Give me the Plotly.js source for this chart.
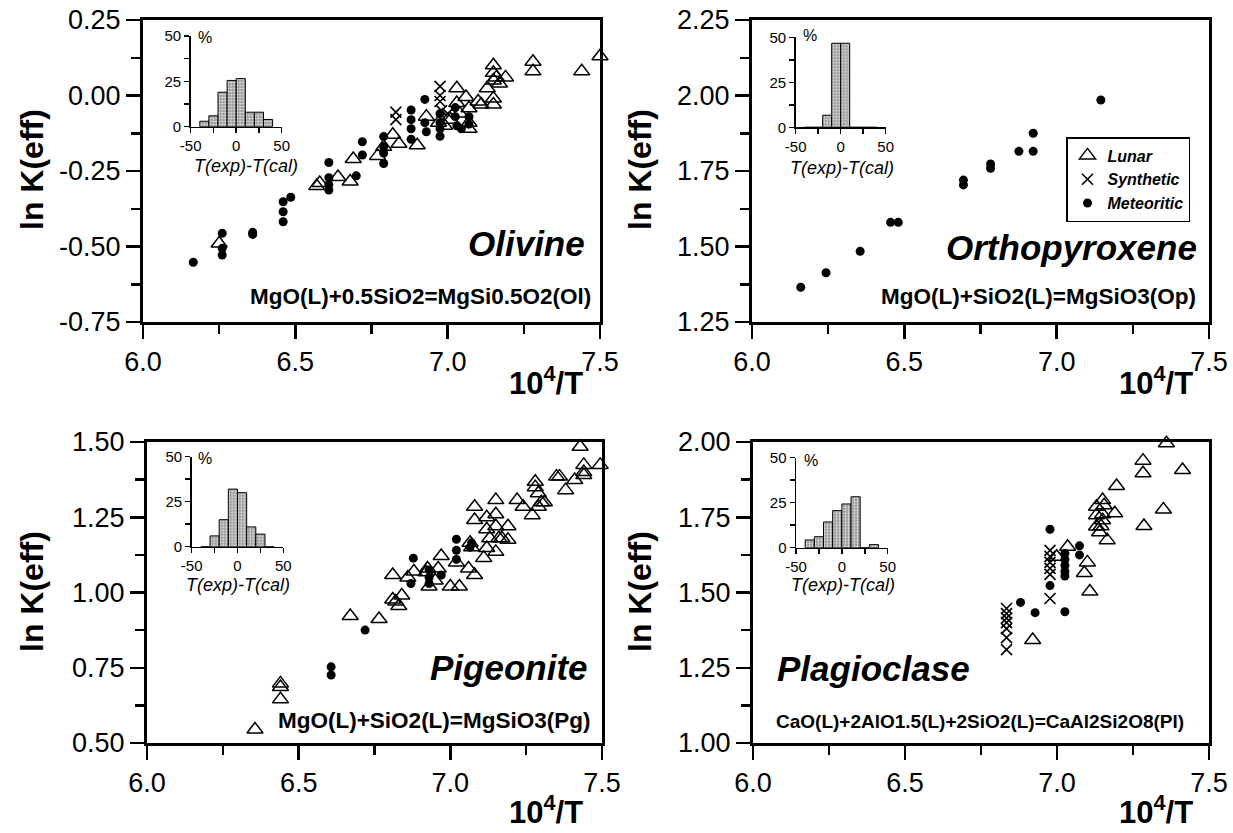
<!DOCTYPE html>
<html><head><meta charset="utf-8">
<script src="https://cdn.plot.ly/plotly-3.0.1.min.js"></script>
<style>html,body{margin:0;padding:0;background:#fff;}#chart{width:1233px;height:833px;}</style>
</head><body><div id="chart"></div>
<script>
// ---------------- DATA ----------------
// Olivine
const olLunarX = [6.25,6.57,6.58,6.64,6.68,6.69,6.77,6.79,6.82,6.84,6.90,6.93,6.97,7.03,7.03,7.06,7.07,7.07,7.07,7.10,7.11,7.13,7.15,7.15,7.15,7.15,7.15,7.16,7.17,7.19,7.28,7.28,7.44,7.50,6.99,7.01,7.04];
const olLunarY = [-0.49,-0.30,-0.29,-0.27,-0.285,-0.21,-0.20,-0.17,-0.13,-0.16,-0.165,-0.07,-0.09,0.024,-0.025,-0.005,-0.042,-0.09,-0.11,-0.02,-0.03,0.024,0.10,0.075,0.05,-0.01,-0.03,0.06,0.04,0.06,0.112,0.08,0.08,0.13,-0.10,-0.08,-0.06];
const olSynX = [6.83,6.83,6.975,6.975,6.975,6.98,7.00];
const olSynY = [-0.055,-0.08,0.03,0.00,-0.02,-0.05,-0.06];
const olMetX = [6.165,6.26,6.26,6.26,6.36,6.36,6.46,6.46,6.46,6.485,6.61,6.61,6.61,6.61,6.70,6.72,6.72,6.79,6.79,6.79,6.79,6.88,6.88,6.88,6.88,6.925,6.925,6.93,6.975,6.975,6.975,6.975,7.025,7.025,7.03,7.045,7.07,7.07];
const olMetY = [-0.552,-0.456,-0.506,-0.528,-0.453,-0.46,-0.352,-0.385,-0.418,-0.337,-0.222,-0.272,-0.295,-0.313,-0.266,-0.153,-0.197,-0.136,-0.169,-0.191,-0.225,-0.048,-0.08,-0.11,-0.145,-0.013,-0.09,-0.12,-0.06,-0.09,-0.11,-0.135,-0.04,-0.07,-0.10,-0.11,-0.07,-0.095];
// Orthopyroxene
const opMetX = [6.16,6.243,6.355,6.455,6.48,6.694,6.694,6.783,6.783,6.876,6.923,6.923,7.145];
const opMetY = [1.365,1.413,1.484,1.58,1.58,1.72,1.704,1.773,1.759,1.815,1.815,1.875,1.985];
// Pigeonite
const pgLunarX = [6.356,6.44,6.44,6.44,6.67,6.765,6.81,6.81,6.82,6.83,6.84,6.86,6.88,6.92,6.93,6.95,6.97,6.96,7.00,7.03,7.02,7.06,7.08,7.11,7.08,7.08,7.12,7.12,7.13,7.12,7.15,7.15,7.15,7.16,7.15,7.17,7.19,7.19,7.22,7.24,7.28,7.28,7.29,7.30,7.29,7.27,7.31,7.35,7.36,7.38,7.41,7.428,7.44,7.44,7.44,7.494,7.065,7.07,6.925];
const pgLunarY = [0.545,0.698,0.686,0.645,0.922,0.912,1.058,0.977,0.97,0.955,0.99,1.05,1.07,1.067,1.02,1.04,1.121,1.08,1.02,1.02,1.10,1.08,1.058,1.115,1.285,1.241,1.25,1.21,1.18,1.148,1.307,1.26,1.22,1.18,1.135,1.18,1.22,1.175,1.307,1.285,1.368,1.35,1.33,1.30,1.285,1.257,1.30,1.385,1.385,1.34,1.374,1.484,1.424,1.40,1.39,1.424,1.165,1.15,1.08];
const pgMetX = [6.607,6.607,6.719,6.878,6.87,6.93,6.93,6.93,6.97,7.02,7.02,7.02,7.065,7.07];
const pgMetY = [0.753,0.726,0.875,1.114,1.03,1.075,1.05,1.03,1.058,1.177,1.14,1.11,1.15,1.165];
// Plagioclase
const plLunarX = [6.92,6.999,7.035,7.10,7.09,7.108,7.165,7.13,7.15,7.155,7.13,7.15,7.19,7.13,7.145,7.196,7.283,7.283,7.36,7.413,7.35,7.286,7.15,7.14];
const plLunarY = [1.342,1.619,1.652,1.60,1.565,1.503,1.674,1.785,1.807,1.79,1.757,1.76,1.763,1.719,1.72,1.854,1.938,1.896,1.996,1.907,1.776,1.721,1.74,1.70];
const plSynX = [6.834,6.834,6.834,6.834,6.834,6.834,6.834,6.977,6.977,6.977,6.977,6.977,6.977];
const plSynY = [1.447,1.43,1.415,1.40,1.38,1.35,1.31,1.64,1.62,1.60,1.58,1.56,1.48];
const plMetX = [6.88,6.928,6.977,6.977,7.026,7.026,7.026,7.026,7.026,7.026,7.074,7.074];
const plMetY = [1.467,1.433,1.71,1.523,1.436,1.63,1.61,1.59,1.57,1.555,1.655,1.625];
// Histograms of T(exp)-T(cal), % per 10-degree bin
const binCenters = [-35,-25,-15,-5,5,15,25,35];
const olHist = [3,6,19,25.5,26.5,8,8,4];
const opHist = [0,0,6.7,46.7,46.7,0,0,0];
const pgHist = [0,6,15,32,30,11,7,0];
const plHist = [4.3,6.1,14.3,20.6,24.3,28.3,0,1.7];
// Tick labels
const xTickVals = [6.0,6.5,7.0,7.5];
const xTickText = ['6.0','6.5','7.0','7.5'];
const olYTickVals = [-0.75,-0.5,-0.25,0,0.25];
const olYTickText = ['-0.75','-0.50','-0.25','0.00','0.25'];
const opYTickVals = [1.25,1.5,1.75,2.0,2.25];
const opYTickText = ['1.25','1.50','1.75','2.00','2.25'];
const pgYTickVals = [0.5,0.75,1.0,1.25,1.5];
const pgYTickText = ['0.50','0.75','1.00','1.25','1.50'];
const plYTickVals = [1.0,1.25,1.5,1.75,2.0];
const plYTickText = ['1.00','1.25','1.50','1.75','2.00'];
const hXTickVals = [-50,0,50];
const hXTickText = ['-50','0','50'];
const hYTickVals = [0,25,50];
const hYTickText = ['0','25','50'];
const panelNames = ['Olivine','Orthopyroxene','Pigeonite','Plagioclase'];
const reactions = ['MgO(L)+0.5SiO2=MgSi0.5O2(Ol)','MgO(L)+SiO2(L)=MgSiO3(Op)','MgO(L)+SiO2(L)=MgSiO3(Pg)','CaO(L)+2AlO1.5(L)+2SiO2(L)=CaAl2Si2O8(Pl)'];
const seriesNames = ['Lunar','Synthetic','Meteoritic'];

// ---------------- LAYOUT HELPERS ----------------
const W = 1233, H = 833;
const FONT = 'Liberation Sans, Arial, Helvetica, sans-serif';
const dX = (a,b) => [a/W, b/W];
const dY = (top,bot) => [1-bot/H, 1-top/H];

function mainAxis(domain, range, tickvals, ticktext, minorD, anchor){
  return {domain, range, anchor, tickmode:'array', tickvals, ticktext,
    showline:true, linewidth:3, linecolor:'#000', mirror:true,
    ticks:'outside', ticklen:14, tickwidth:2.5, tickcolor:'#000',
    showgrid:false, zeroline:false, fixedrange:true,
    tickfont:{family:FONT, size:27, color:'#000'},
    minor:{ticks:'outside', ticklen:9, tickwidth:2.5, tickcolor:'#000', tickmode:'linear', tick0:range[0], dtick:minorD, showgrid:false}};
}
function insetAxis(domain, range, tickvals, ticktext, minorVals, anchor){
  return {domain, range, anchor, tickmode:'array', tickvals, ticktext,
    showline:true, linewidth:1.5, linecolor:'#000', mirror:false,
    ticks:'outside', ticklen:5, tickwidth:1.5, tickcolor:'#000',
    showgrid:false, zeroline:false, fixedrange:true,
    tickfont:{family:FONT, size:15, color:'#000'},
    minor:{ticks:'outside', ticklen:5, tickwidth:1.5, tickcolor:'#000', tickmode:'array', tickvals:minorVals, showgrid:false}};
}

const main = [
  {xd:[143,600], yd:[20,322], yr:[-0.75,0.25], tv:olYTickVals, tt:olYTickText},
  {xd:[752,1209], yd:[20,322], yr:[1.25,2.25], tv:opYTickVals, tt:opYTickText},
  {xd:[147,602], yd:[442,743], yr:[0.5,1.5], tv:pgYTickVals, tt:pgYTickText},
  {xd:[753,1209], yd:[442,743], yr:[1.0,2.0], tv:plYTickVals, tt:plYTickText}
];
const insets = [
  {xd:[190.7,281.7], yd:[36,126.7], h:olHist, pct:[205,37], ttl:[246,166]},
  {xd:[795.7,885.7], yd:[37.3,127.3], h:opHist, pct:[810,36], ttl:[842,168]},
  {xd:[191.7,283.3], yd:[456.7,546.7], h:pgHist, pct:[205,459], ttl:[238,585]},
  {xd:[796,887.7], yd:[457.7,547.7], h:plHist, pct:[811,460], ttl:[843,585]}
];

const layout = {width:W, height:H, margin:{l:0,r:0,t:0,b:0}, paper_bgcolor:'#fff', plot_bgcolor:'rgba(0,0,0,0)',
  showlegend:true, font:{family:FONT, color:'#000'},
  legend:{x:1066/W, y:1-137/H, xanchor:'left', yanchor:'top', bordercolor:'#000', borderwidth:1.5, bgcolor:'#fff',
    itemwidth:30, tracegroupgap:0, font:{family:FONT, size:16, weight:'bold', style:'italic', color:'#000'}},
  annotations:[]};

main.forEach((p,i)=>{
  const n = i+1;
  layout['xaxis'+n] = mainAxis(dX(...p.xd), [6.0,7.5], xTickVals, xTickText, 0.25, 'y'+n);
  layout['yaxis'+n] = mainAxis(dY(...p.yd), p.yr, p.tv, p.tt, 0.125, 'x'+n);
});
insets.forEach((p,i)=>{
  const n = i+5;
  layout['xaxis'+n] = insetAxis(dX(...p.xd), [-50,50], hXTickVals, hXTickText, [-25,25], 'y'+n);
  layout['yaxis'+n] = insetAxis(dY(...p.yd), [0,50], hYTickVals, hYTickText, [12.5,37.5], 'x'+n);
});
layout.xaxis = layout.xaxis1; delete layout.xaxis1;
layout.yaxis = layout.yaxis1; delete layout.yaxis1;
layout.xaxis.anchor = 'y'; layout.yaxis.anchor = 'x';

function ann(text, px, py, size, xanchor, extra){
  layout.annotations.push(Object.assign({text, xref:'paper', yref:'paper', x:px/W, y:1-py/H,
    xanchor, yanchor:'middle', showarrow:false, font:{family:FONT, size, color:'#000'}}, extra||{}));
}
// Panel labels and reactions
ann('<b><i>'+panelNames[0]+'</i></b>', 587, 243, 35, 'right');
ann('<b><i>'+panelNames[1]+'</i></b>', 1199, 247, 35, 'right');
ann('<b><i>'+panelNames[2]+'</i></b>', 590, 667, 35, 'right');
ann('<b><i>'+panelNames[3]+'</i></b>', 775, 668, 35, 'left');
ann('<b>'+reactions[0]+'</b>', 593, 296, 22.5, 'right');
ann('<b>'+reactions[1]+'</b>', 1198, 296, 22.5, 'right');
ann('<b>'+reactions[2]+'</b>', 593, 720, 22.5, 'right');
ann('<b>'+reactions[3]+'</b>', 980, 721, 19, 'center');
// Axis titles
[[32,170],[640,170],[32,592],[640,592]].forEach(([x,y])=>ann('<b>ln K(eff)</b>', x, y, 32, 'center', {textangle:-90}));
[[546,381],[1156,381],[546,810],[1156,810]].forEach(([x,y])=>ann('<b>10<sup>4</sup>/T</b>', x, y, 31, 'center'));
// Inset labels
insets.forEach(p=>{
  ann('%', p.pct[0], p.pct[1], 16, 'center');
  ann('<i>T(exp)-T(cal)</i>', p.ttl[0], p.ttl[1], 18, 'center');
});

// ---------------- TRACES ----------------
const lunarMk = {symbol:'triangle-up-open', size:14, color:'#000', line:{width:1.5, color:'#000'}};
const synMk = {symbol:'x-thin-open', size:11, color:'#000', line:{width:1.6, color:'#000'}};
const metMk = {symbol:'circle', size:9, color:'#000', line:{width:0}};
function sc(x,y,mk,name,ax,legend){
  return {type:'scatter', mode:'markers', x, y, marker:mk, name, xaxis:'x'+ax, yaxis:'y'+ax,
    showlegend:!!legend, hoverinfo:'x+y', cliponaxis:false};
}
const traces = [
  sc(olLunarX, olLunarY, lunarMk, seriesNames[0], '', true),
  sc(olSynX, olSynY, synMk, seriesNames[1], '', true),
  sc(olMetX, olMetY, metMk, seriesNames[2], '', true),
  sc(opMetX, opMetY, metMk, seriesNames[2], '2'),
  sc(pgLunarX, pgLunarY, lunarMk, seriesNames[0], '3'),
  sc(pgMetX, pgMetY, metMk, seriesNames[2], '3'),
  sc(plLunarX, plLunarY, lunarMk, seriesNames[0], '4'),
  sc(plSynX, plSynY, synMk, seriesNames[1], '4'),
  sc(plMetX, plMetY, metMk, seriesNames[2], '4')
];
insets.forEach((p,i)=>{
  const n = i+5;
  traces.push({type:'bar', x:binCenters, y:p.h, width:10, xaxis:'x'+n, yaxis:'y'+n, showlegend:false,
    marker:{color:'#a8a8a8', line:{color:'#000', width:1},
      pattern:{shape:'.', fgcolor:'#eeeeee', bgcolor:'#9a9a9a', size:3, solidity:0.3}}});
});

Plotly.newPlot('chart', traces, layout, {displayModeBar:false, staticPlot:true});
</script></body></html>
